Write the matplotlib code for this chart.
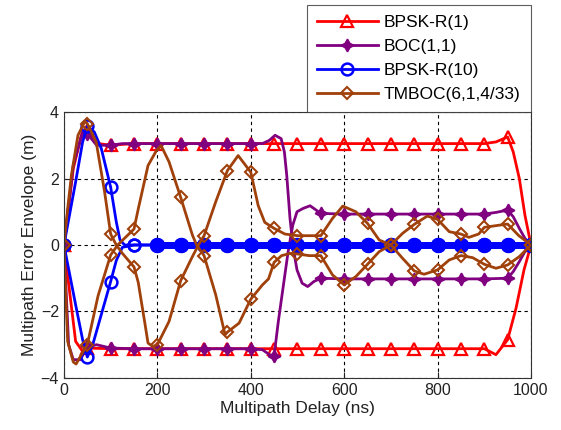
import numpy as np
import matplotlib.pyplot as plt

plt.rcParams['font.family'] = ['Liberation Sans', 'DejaVu Sans']

# BPSK-R(1) envelope (delay in ns, error in m)
bpsk1_up_d = [0, 20, 40, 50, 75, 100, 150, 200, 250, 300, 350, 400, 450, 500, 550, 600,
              650, 700, 750, 800, 850, 900, 925, 950, 962, 975, 987, 1000]
bpsk1_up = [0, 2.3, 3.45, 3.42, 3.05, 3.0, 3.05, 3.05, 3.05, 3.05, 3.05, 3.05, 3.05, 3.05,
            3.05, 3.05, 3.05, 3.05, 3.05, 3.05, 3.05, 3.05, 3.1, 3.25, 2.8, 2.0, 0.9, 0]
bpsk1_lo_d = [0, 25, 40, 50, 100, 150, 200, 250, 300, 350, 400, 450, 500, 550, 600, 650,
              700, 750, 800, 850, 900, 925, 950, 968, 985, 1000]
bpsk1_lo = [0, -2.9, -3.2, -3.1, -3.12, -3.12, -3.12, -3.12, -3.12, -3.12, -3.12, -3.12,
            -3.12, -3.12, -3.12, -3.12, -3.12, -3.12, -3.12, -3.12, -3.12, -3.3, -2.85,
            -1.9, -0.75, 0]

# BOC(1,1) envelope
boc_a_d = [0, 20, 40, 50, 70, 100, 125, 150, 200, 250, 300, 350, 400, 425, 440, 452, 465,
           472, 477, 484, 491, 499, 510, 522, 535, 550, 600, 650, 700, 750, 800, 850, 900,
           950, 962, 975, 987, 1000]
boc_a = [0, 2.4, 3.4, 3.35, 3.0, 3.0, 3.05, 3.05, 3.05, 3.05, 3.05, 3.05, 3.05, 3.05, 3.15,
         3.3, 3.2, 2.8, 2.1, 0.8, -0.1, -0.75, -1.15, -1.25, -1.1, -1.0, -1.02, -1.02,
         -1.02, -1.02, -1.02, -1.02, -1.02, -1.0, -0.8, -0.5, -0.2, 0]
boc_b_d = [0, 10, 20, 35, 50, 70, 100, 150, 200, 250, 300, 350, 400, 425, 440, 450, 459,
           466, 473, 480, 490, 499, 512, 527, 540, 550, 600, 650, 700, 750, 800, 850, 900,
           925, 950, 962, 975, 987, 1000]
boc_b = [0, -3.0, -3.45, -3.45, -3.05, -3.0, -3.1, -3.12, -3.12, -3.12, -3.12, -3.12,
         -3.12, -3.15, -3.3, -3.33, -2.3, -1.6, -0.9, -0.2, 0.6, 1.0, 1.1, 1.18, 1.05, 0.95,
         0.93, 0.93, 0.93, 0.93, 0.93, 0.93, 0.93, 0.98, 1.05, 0.85, 0.5, 0.2, 0]

# BPSK-R(10) envelope
bpsk10_up_d = [0, 25, 40, 50, 65, 80, 100, 112, 120, 130, 150, 200, 250, 300, 350, 400,
               450, 500, 550, 600, 650, 700, 750, 800, 850, 900, 950, 1000]
bpsk10_up = [0, 1.9, 3.1, 3.58, 3.4, 2.9, 1.74, 0.7, 0.15, 0.0, 0, 0, 0, 0, 0, 0, 0, 0, 0,
             0, 0, 0, 0, 0, 0, 0, 0, 0]
bpsk10_lo_d = [0, 25, 40, 50, 62, 100, 112, 125, 150, 200, 250, 300, 350, 400, 450, 500,
               550, 600, 650, 700, 750, 800, 850, 900, 950, 1000]
bpsk10_lo = [0, -1.8, -2.85, -3.37, -2.98, -1.1, -0.47, -0.07, 0, 0, 0, 0, 0, 0, 0, 0, 0,
             0, 0, 0, 0, 0, 0, 0, 0, 0]

# TMBOC(6,1,4/33) envelope
tmboc_a_d = [0, 8, 16, 30, 45, 50, 69, 87, 100, 112, 125, 150, 159, 173, 180, 190, 200,
             225, 250, 275, 288, 300, 325, 350, 373, 400, 416, 430, 450, 473, 500, 525, 550,
             575, 597, 625, 650, 675, 700, 725, 750, 771, 800, 825, 850, 875, 900, 925, 950,
             975, 1000]
tmboc_a = [0, 1.1, 2.1, 3.3, 3.72, 3.65, 3.1, 1.6, 0.33, 0.0, -0.25, -0.66, -1.12, -2.33,
           -2.95, -3.05, -3.0, -2.3, -1.07, -0.35, 0.0, 0.28, 1.3, 2.24, 2.69, 2.19, 1.18,
           0.68, 0.5, 0.33, 0.28, 0.28, 0.28, 0.8, 1.17, 1.0, 0.65, 0.15, 0.0, -0.4, -0.78,
           -0.88, -0.75, -0.45, -0.32, -0.38, -0.58, -0.7, -0.6, -0.35, 0]
tmboc_b_d = [0, 4, 8, 20, 26, 36, 50, 73, 100, 115, 150, 159, 180, 198, 208, 225, 250, 275,
             284, 300, 325, 345, 350, 375, 400, 425, 438, 450, 466, 485, 500, 525, 550, 575,
             600, 625, 650, 675, 700, 725, 750, 778, 800, 825, 850, 867, 888, 900, 924, 950,
             974, 1000]
tmboc_b = [0, -1.5, -2.9, -3.52, -3.58, -3.33, -3.0, -1.53, -0.3, 0.0, 0.48, 1.08, 2.39,
           2.84, 2.99, 2.5, 1.43, 0.3, 0.0, -0.32, -1.5, -2.7, -2.62, -2.35, -1.63, -1.2,
           -1.02, -0.52, -0.32, -0.25, -0.27, -0.32, -0.32, -0.9, -1.2, -0.95, -0.58, -0.2,
           0.0, 0.35, 0.62, 0.87, 0.77, 0.4, 0.33, 0.23, 0.33, 0.53, 0.58, 0.63, 0.28, 0]


def marks(d):
    # markers only on the 50 ns grid
    return [v % 50 == 0 for v in d]


fig = plt.figure(figsize=(5.61, 4.30), dpi=100)
ax = fig.add_axes([0.114, 0.121, 0.8325, 0.6185])

red, purple, blue, brown = '#ff0000', '#800080', '#0000ff', '#a0400a'
lw = 2

# BPSK-R(1)
for d, v, lab in [(bpsk1_up_d, bpsk1_up, 'BPSK-R(1)'), (bpsk1_lo_d, bpsk1_lo, None)]:
    ax.plot(d, v, color=red, lw=lw, marker='^', ms=9, mfc='none', mew=1.6,
            markevery=marks(d), label=lab)

# BOC(1,1)
for d, v, lab in [(boc_a_d, boc_a, 'BOC(1,1)'), (boc_b_d, boc_b, None)]:
    ax.plot(d, v, color=purple, lw=lw, marker=(4, 1, 0), ms=9, mew=1.2,
            markevery=marks(d), label=lab)

# BPSK-R(10): open circles on the slope, merged flat tail at zero
for d, v, lab in [(bpsk10_up_d, bpsk10_up, 'BPSK-R(10)'), (bpsk10_lo_d, bpsk10_lo, None)]:
    d = np.array(d)
    v = np.array(v)
    ax.plot(d, v, color=blue, lw=lw, marker='o', ms=8.5, mfc='none', mew=1.8,
            markevery=marks(d), label=lab)
    tail = d > 150
    ax.plot(d[tail], v[tail], color=blue, lw=5, marker='o', ms=10, mfc=blue, mew=1,
            markevery=marks(d[tail]))

# TMBOC(6,1,4/33)
for d, v, lab in [(tmboc_a_d, tmboc_a, 'TMBOC(6,1,4/33)'), (tmboc_b_d, tmboc_b, None)]:
    ax.plot(d, v, color=brown, lw=lw, marker='D', ms=6.5, mfc='none', mew=1.5,
            markevery=marks(d), label=lab)

ax.set_xlim(0, 1000)
ax.set_ylim(-4, 4)
ax.set_xticks([0, 200, 400, 600, 800, 1000])
ax.set_yticks([-4, -2, 0, 2, 4])
ax.tick_params(direction='in', labelsize=11.5, length=4, colors='#222222')
ax.grid(True, color='k', linestyle=(0, (3, 3)), lw=0.8)
ax.set_axisbelow(True)
for s in ax.spines.values():
    s.set_linewidth(0.8)
    s.set_color('#333333')
ax.set_xlabel('Multipath Delay (ns)', fontsize=12.5, labelpad=2, color='#222222')
ax.set_ylabel('Multipath Error Envelope (m)', fontsize=12.5, labelpad=3, color='#222222')

leg = fig.legend(loc='lower right', bbox_to_anchor=(0.9465, 0.7395), fontsize=12.5,
                 handlelength=3.5, frameon=True, fancybox=False, edgecolor='#333333',
                 borderpad=0.6, labelspacing=0.5, handletextpad=0.35,
                 borderaxespad=0)
leg.get_frame().set_linewidth(0.8)

fig.savefig('out.png', dpi=100)
